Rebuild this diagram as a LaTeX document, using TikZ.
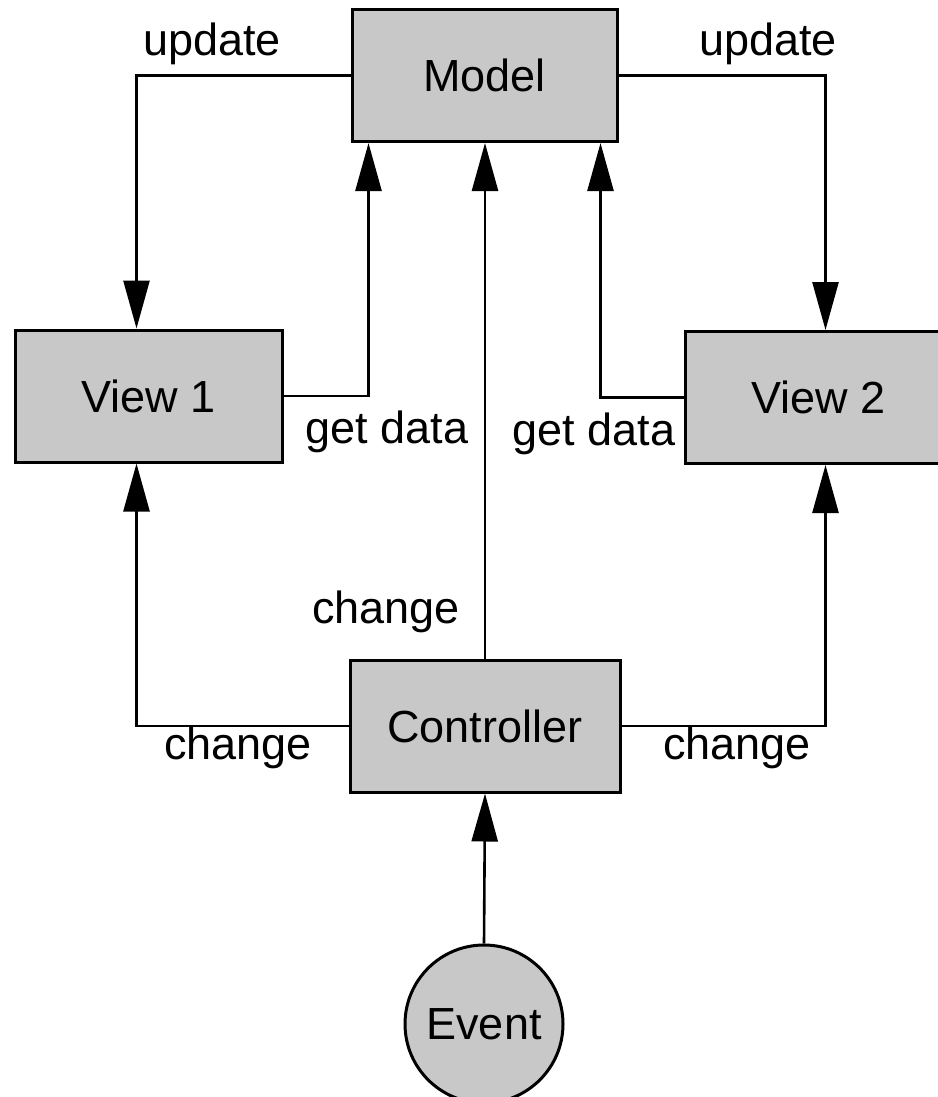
\documentclass[tikz,border=0pt]{standalone}
\usepackage{fontspec}
\setmainfont{Liberation Sans}
\usetikzlibrary{arrows.meta,calc}
\definecolor{boxfill}{RGB}{200,200,200}
\begin{document}
\begin{tikzpicture}[x=1pt,y=-1pt,
  every node/.style={font=\fontsize{45}{52}\selectfont},
  box/.style={draw=black,line width=3pt,fill=boxfill,inner sep=0pt,minimum width=#1,minimum height=132pt},
  circ/.style={draw=black,line width=3pt,fill=boxfill,circle,inner sep=0pt,minimum size=158pt},
  conn/.style={line width=2.6pt},
  arr/.style={conn,-{Triangle[length=48pt,width=26pt]}},
  lbl/.style={inner sep=0pt}]
\useasboundingbox (0,0) rectangle (937,1097);
\node[box=265pt] (model) at (484.5,75.5) {Model};
\node[box=267pt] (view1) at (148.5,396) {View 1};
\node[box=267pt] (view2) at (818.5,397.5) {View 2};
\node[box=270pt] (ctrl) at (485,726) {Controller};
\node[circ] (event) at (484,1024) {Event};
% update
\draw[arr] (model.west) -| ([xshift=123pt]view1.north west);
\draw[arr] (model.east) -| ([xshift=142pt]view2.north west);
% get data
\draw[arr] (view1.east) -| ([xshift=18pt]model.south west);
\draw[arr] (view2.west) -| ([xshift=-18pt]model.south east);
% change
\draw[arr] (ctrl.north) -- (ctrl.north |- model.south);
\draw[arr] (ctrl.west) -| ([xshift=123pt]view1.south west);
\draw[arr] (ctrl.east) -| ([xshift=142pt]view2.south west);
% event
\draw[arr] (event.north) -- (ctrl.south);
% labels
\node[lbl] (l1) at (212,44) {update};
\node[lbl] (l2) at (768,44) {update};
\node[lbl] (l3) at (387,432) {get data};
\node[lbl] (l4) at (594,434) {get data};
\node[lbl] (l5) at (386,612) {change};
\node[lbl] (l6) at (238,748) {change};
\node[lbl] (l7) at (737,748) {change};
\end{tikzpicture}
\end{document}
